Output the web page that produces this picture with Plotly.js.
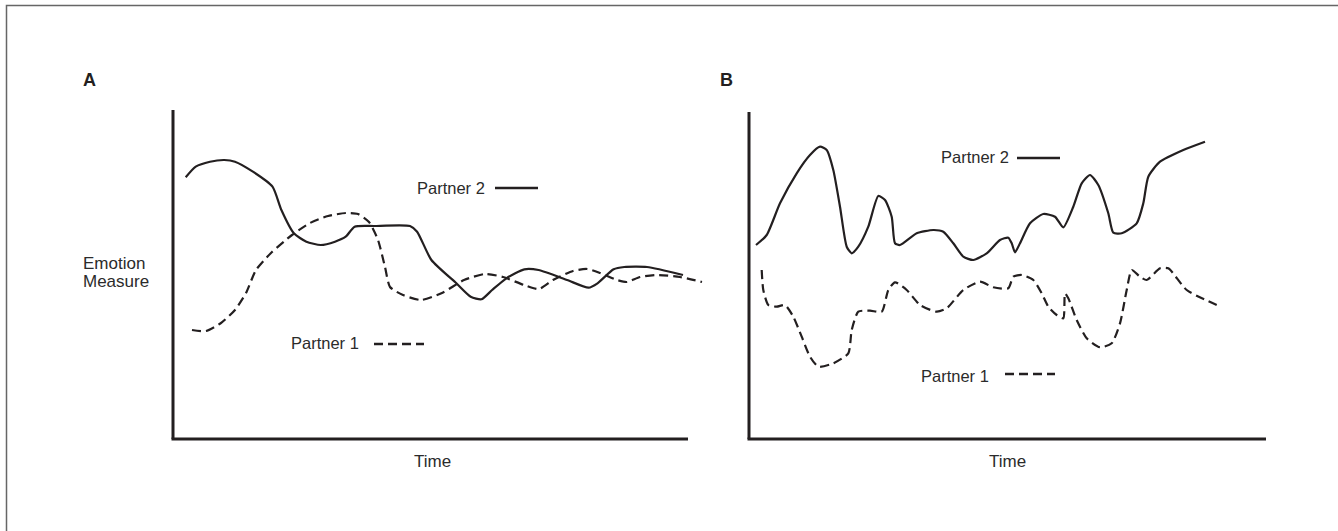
<!DOCTYPE html>
<html><head><meta charset="utf-8">
<script src="https://cdn.plot.ly/plotly-3.0.1.min.js"></script>
<style>html,body{margin:0;padding:0;background:#fff}#chart{width:1338px;height:531px}</style>
</head><body><div id="chart"></div>
<script>
// Panel A
const timeA_partner2 = [12.7,22.7,37,51.3,62,79.9,99.5,108.4,120.9,133.4,147.7,162,172.7,181.6,201.3,237,244.1,258.4,283.4,297.7,308.4,319.1,333.4,351.3,365.6,394.1,415.6,424.5,440.6,451.3,474,510];
const emoA_partner2 = [261.7,272.3,277.3,279,277.3,267.3,252.3,229,205.7,197.3,194,197.3,202.3,212.3,213,213,207.3,179,155.7,142.3,139.7,149,160.7,169.7,169,159,151.3,155.7,169.7,172,172,164];
const timeA_partner1 = [19,33,48,62,73,83,98,119,137,155,173,185,196,205,212,217,230,248,269,291,312,330,351,366,380,400,414,427,444,454,467,484,507,529];
const emoA_partner1 = [109,108,116,129,146,169,186,204,216,223,226,225,217,199,172,152,144,139,146,159,165,162,154,150,159,168,170,166,159,157,162,164,162,157];
// Panel B
const timeB_partner2 = [7,17.7,31,47.7,61,71,77.7,84.3,91,97.7,102.7,109.3,119.3,129.3,136,142.7,146,151,167.7,184.3,194.3,204.3,214.3,224.3,237.7,251,259.3,262.7,266,271,281,294.3,306,314.3,324.3,332.7,341,349.3,359.3,364.3,372.7,387.7,394.3,399.3,411,434.3,456];
const emoB_partner2 = [194,204,235.7,265.7,284,292.3,289,269,232.3,192.3,185.7,192.3,212.3,243,239,222.3,195.7,194,205.7,209,207.3,195.7,182.3,179,185.7,199,201.3,195.7,186.7,195.7,215.7,225,222.3,211.7,232.3,255.7,264,254,225.7,206.3,205.7,215.7,235.7,262.3,277.3,289,297.3];
const timeB_partner1 = [12.7,14.3,19.3,27.7,36,44.3,52.7,61,69.3,84.3,99.3,102.7,109.3,121,132.7,139.3,146,157.7,171,187.7,197.7,214.3,231,244.3,259.3,264.3,272.7,284.3,292.7,299.3,307.7,314.3,316,319.3,327.7,337.7,351,362.7,371,377.7,382.7,391,397.7,411,419.3,437.7,467.7];
const emoB_partner1 = [169,149,134,132.3,134,122.3,102.3,82.3,72.3,75.7,85.7,109,127.3,128.3,127.3,149,156.7,149,134,127.3,130.7,149,157.3,151.7,150.7,162.3,164,159,145.7,132.3,124,120.7,145.7,140.7,119,100.7,91.7,95.7,115.7,149,169,162.3,159,170.7,170.7,149,134];

const panelLabels = ['A','B'];
const seriesNames = ['Partner 1','Partner 2'];
const yTitle = ['Emotion','Measure'];
const xTitle = 'Time';

const W = 1338, H = 531;
const px = x => x / W;
const py = y => 1 - y / H;
const INK = '#231f20', TXT = '#2b2b2b';
const FONT = '"Liberation Sans", Arial, Helvetica, sans-serif';
const SOLID = {color: INK, width: 2.2, shape: 'spline', smoothing: 0.6};
const DASHED = {color: INK, width: 2.2, shape: 'spline', smoothing: 0.6, dash: '9px,5px'};

const traces = [
  {x: timeA_partner2, y: emoA_partner2, xaxis: 'x', yaxis: 'y', mode: 'lines', line: SOLID, name: seriesNames[1]},
  {x: timeA_partner1, y: emoA_partner1, xaxis: 'x', yaxis: 'y', mode: 'lines', line: DASHED, name: seriesNames[0]},
  {x: timeB_partner2, y: emoB_partner2, xaxis: 'x2', yaxis: 'y2', mode: 'lines', line: SOLID, name: seriesNames[1]},
  {x: timeB_partner1, y: emoB_partner1, xaxis: 'x2', yaxis: 'y2', mode: 'lines', line: DASHED, name: seriesNames[0]}
];

const hidden = {showline: false, showgrid: false, zeroline: false, showticklabels: false, ticks: '', fixedrange: true};
const yDom = [py(442), py(105)];

const axisLine = (xr, yr, x0, y0, x1, y1) => ({type: 'line', xref: xr, yref: yr, x0, y0, x1, y1, line: {color: INK, width: 3}});
const keyLine = (xr, yr, x0, x1, y, dash) => ({type: 'line', xref: xr, yref: yr, x0, x1, y0: y, y1: y, line: {color: INK, width: 2.5, dash: dash || 'solid'}});

const shapes = [
  {type: 'rect', xref: 'paper', yref: 'paper', x0: px(6.5), x1: 1.05, y0: -0.05, y1: py(5.5), line: {color: '#666', width: 1.5}},
  axisLine('x', 'y', -1.5, 0, 515, 0),
  axisLine('x', 'y', 0, 0, 0, 329),
  axisLine('x2', 'y2', -1.5, 0, 517, 0),
  axisLine('x2', 'y2', 0, 0, 0, 327),
  keyLine('x', 'y', 322, 365, 251),
  keyLine('x', 'y', 201, 251, 95, '9px,5px'),
  keyLine('x2', 'y2', 268, 311, 281),
  keyLine('x2', 'y2', 256, 306, 65, '9px,5px')
];

const ann = (text, x, y, opts) => Object.assign({text, x, y, xref: 'paper', yref: 'paper', showarrow: false,
  xanchor: 'center', yanchor: 'middle', font: {family: FONT, size: 17, color: TXT}}, opts || {});

const annotations = [
  ann('<b>' + panelLabels[0] + '</b>', px(89), py(79.5), {font: {family: FONT, size: 18, color: INK}}),
  ann('<b>' + panelLabels[1] + '</b>', px(726), py(79.5), {font: {family: FONT, size: 18, color: INK}}),
  ann(yTitle[0], px(81), py(263), {xanchor: 'left'}),
  ann(yTitle[1], px(81), py(281), {xanchor: 'left'}),
  ann(xTitle, px(432.5), py(461)),
  ann(xTitle, px(1007), py(461)),
  ann(seriesNames[1], 314, 251, {xref: 'x', yref: 'y', xanchor: 'right', font: {family: FONT, size: 16.5, color: TXT}}),
  ann(seriesNames[0], 188, 96, {xref: 'x', yref: 'y', xanchor: 'right', font: {family: FONT, size: 16.5, color: TXT}}),
  ann(seriesNames[1], 262, 282, {xref: 'x2', yref: 'y2', xanchor: 'right', font: {family: FONT, size: 16.5, color: TXT}}),
  ann(seriesNames[0], 242, 63.5, {xref: 'x2', yref: 'y2', xanchor: 'right', font: {family: FONT, size: 16.5, color: TXT}})
];

const layout = {
  width: W, height: H,
  margin: {l: 0, r: 0, t: 0, b: 0, pad: 0},
  paper_bgcolor: '#fff', plot_bgcolor: 'rgba(0,0,0,0)',
  showlegend: false, hovermode: false,
  font: {family: FONT, color: TXT},
  xaxis: Object.assign({domain: [px(170), px(710)], range: [-3, 537], anchor: 'y'}, hidden),
  yaxis: Object.assign({domain: yDom, range: [-3, 334], anchor: 'x'}, hidden),
  xaxis2: Object.assign({domain: [px(746), px(1270)], range: [-3, 521], anchor: 'y2'}, hidden),
  yaxis2: Object.assign({domain: yDom, range: [-3, 334], anchor: 'x2'}, hidden),
  shapes, annotations
};

Plotly.newPlot('chart', traces, layout, {displayModeBar: false, staticPlot: true});
</script>
</body></html>
